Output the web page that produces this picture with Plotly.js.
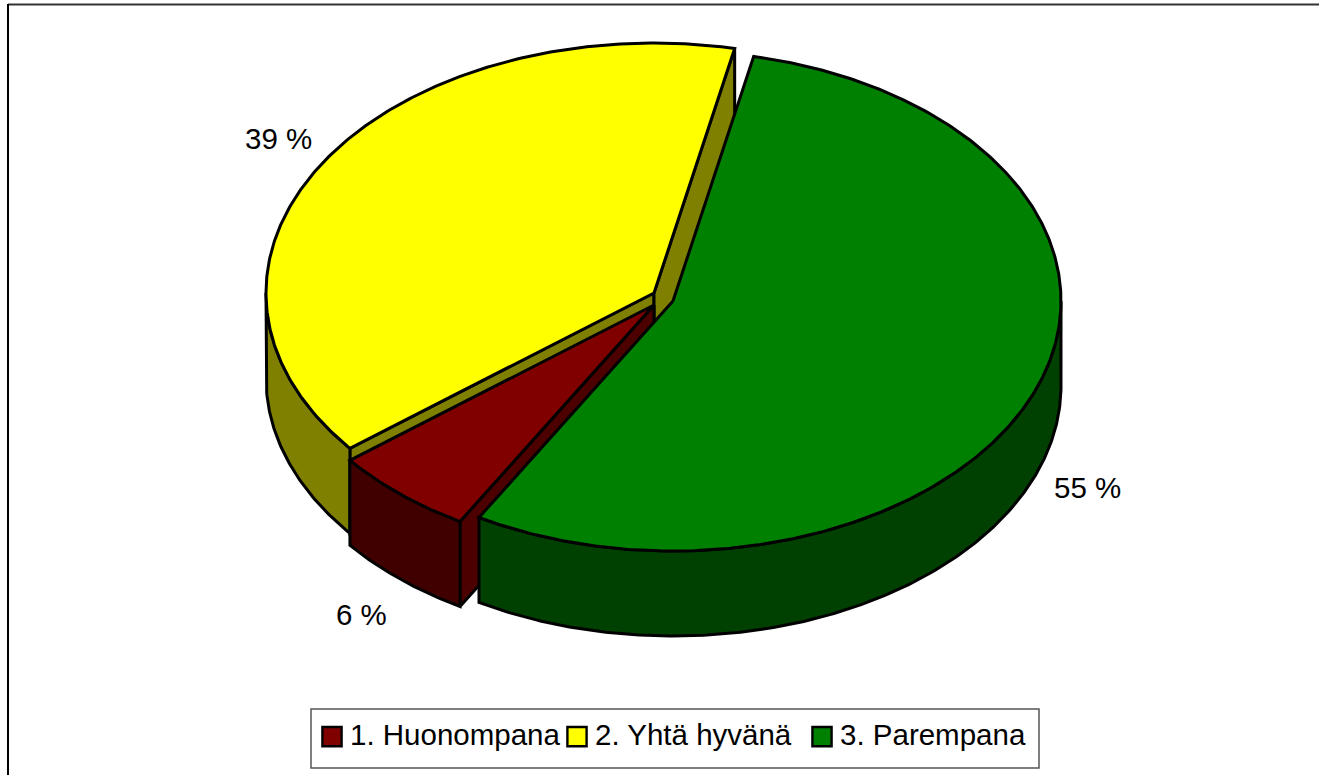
<!DOCTYPE html>
<html><head><meta charset="utf-8">
<script src="https://cdn.plot.ly/plotly-3.0.1.min.js"></script>
<style>html,body{margin:0;padding:0;background:#fff;overflow:hidden}</style>
</head><body><div id="chart" style="width:1319px;height:775px"></div>
<script>
const categories = ["1. Huonompana", "2. Yhtä hyvänä", "3. Parempana"];
const values = [6, 39, 55];
const topColors = ["#800000", "#ffff00", "#008000"];
const wallColors = ["#400000", "#808000", "#004000"];
const cutColors = ["#4d0000", "#808000", "#004000"];
const fontFamily = '"Liberation Sans", Arial, sans-serif';
const fontSize = 29.5;

// pie geometry (pixels of the plotting area), one centre per exploded slice
const centers = [[654, 305], [654, 293], [673, 301]];
const rx = 388, ry = 250, depth = 85;
const firstAngle = 210;  // slices run clockwise, degrees from 12 o'clock
const labelPos = [[361, 614], [278.5, 138], [1087, 487]];

const pt = (c, a, dz) => {
  const r = a * Math.PI / 180;
  return [c[0] + rx * Math.sin(r), c[1] - ry * Math.cos(r) + dz];
};
const arc = (c, a0, a1, dz) => {
  const out = [], n = Math.max(2, Math.ceil(Math.abs(a1 - a0) * 2));
  for (let i = 0; i <= n; i++) out.push(pt(c, a0 + (a1 - a0) * i / n, dz));
  return out;
};
const poly = (pts, fill, lw) => ({
  type: "scatter", mode: "lines", fill: "toself", fillcolor: fill,
  x: pts.map(p => p[0]).concat(pts[0][0]), y: pts.map(p => p[1]).concat(pts[0][1]),
  line: {color: "#000", width: lw === undefined ? 3 : lw, shape: "linear"},
  hoverinfo: "skip", showlegend: false
});

const total = values.reduce((s, v) => s + v, 0);
let ang = firstAngle;
const spans = values.map(v => { const s = [ang, ang + v / total * 360]; ang = s[1]; return s; });

const traces = [];
// painter's order: yellow, red, green
[1, 0, 2].forEach(i => {
  const c = centers[i], a0 = spans[i][0], a1 = spans[i][1];
  const cutWall = a => {
    const e = pt(c, a, 0), e2 = pt(c, a, depth);
    traces.push(poly([c, e, e2, [c[0], c[1] + depth]], cutColors[i]));
  };
  // cut faces that look towards the viewer
  if (i === 1) { cutWall(a0); cutWall(a1); }
  if (i === 0) { cutWall(a0); }
  // outer wall: only the parts on the front half of the ellipse
  [0, 360].forEach(turn => {
    const w0 = Math.max(a0, 90 + turn), w1 = Math.min(a1, 270 + turn);
    if (w1 > w0) traces.push(poly(arc(c, w0, w1, 0).concat(arc(c, w1, w0, depth)), wallColors[i]));
  });
  // top face
  traces.push(poly([c].concat(arc(c, a0, a1, 0)), topColors[i]));
});
// legend entries
categories.forEach((name, i) => traces.push({
  type: "scatter", mode: "markers", name: name, x: [null], y: [null],
  marker: {symbol: "square", size: 16, color: topColors[i], line: {color: "#000", width: 2}},
  hoverinfo: "skip", showlegend: true
}));

const layout = {
  width: 1319, height: 775,
  margin: {l: 0, r: 0, t: 0, b: 0},
  paper_bgcolor: "#fff", plot_bgcolor: "#fff",
  font: {family: fontFamily, color: "#000", size: fontSize},
  xaxis: {range: [0, 1319], visible: false, fixedrange: true},
  yaxis: {range: [775, 0], visible: false, fixedrange: true},
  showlegend: true,
  legend: {orientation: "h", x: 310 / 1319, y: 1 - 708 / 775, xanchor: "left", yanchor: "top",
    bgcolor: "rgba(0,0,0,0)", borderwidth: 0, font: {family: fontFamily, size: fontSize, color: "#000"},
    entrywidth: 200, entrywidthmode: "pixels", traceorder: "normal"},
  shapes: [
    {type: "line", xref: "x", yref: "y", x0: 8, x1: 1319, y0: 4.5, y1: 4.5, line: {color: "#333", width: 2}},
    {type: "line", xref: "x", yref: "y", x0: 8, x1: 8, y0: 4, y1: 775, line: {color: "#000", width: 2}},
    {type: "rect", xref: "x", yref: "y", x0: 311, x1: 1039, y0: 709, y1: 768, line: {color: "#555", width: 1.5}, fillcolor: "#fff", layer: "below"}
  ],
  annotations: values.map((v, i) => ({
    xref: "x", yref: "y", x: labelPos[i][0], y: labelPos[i][1], text: v + " %",
    showarrow: false, font: {family: fontFamily, size: fontSize, color: "#000"}
  }))
};
Plotly.newPlot("chart", traces, layout, {displayModeBar: false, staticPlot: true}).then(() => {
  // the legend caps marker size; the reference swatches are a little larger
  document.querySelectorAll(".legend .legendpoints path").forEach(p => {
    p.setAttribute("transform", (p.getAttribute("transform") || "") + " translate(2,3) scale(1.2)");
  });
});
</script></body></html>
